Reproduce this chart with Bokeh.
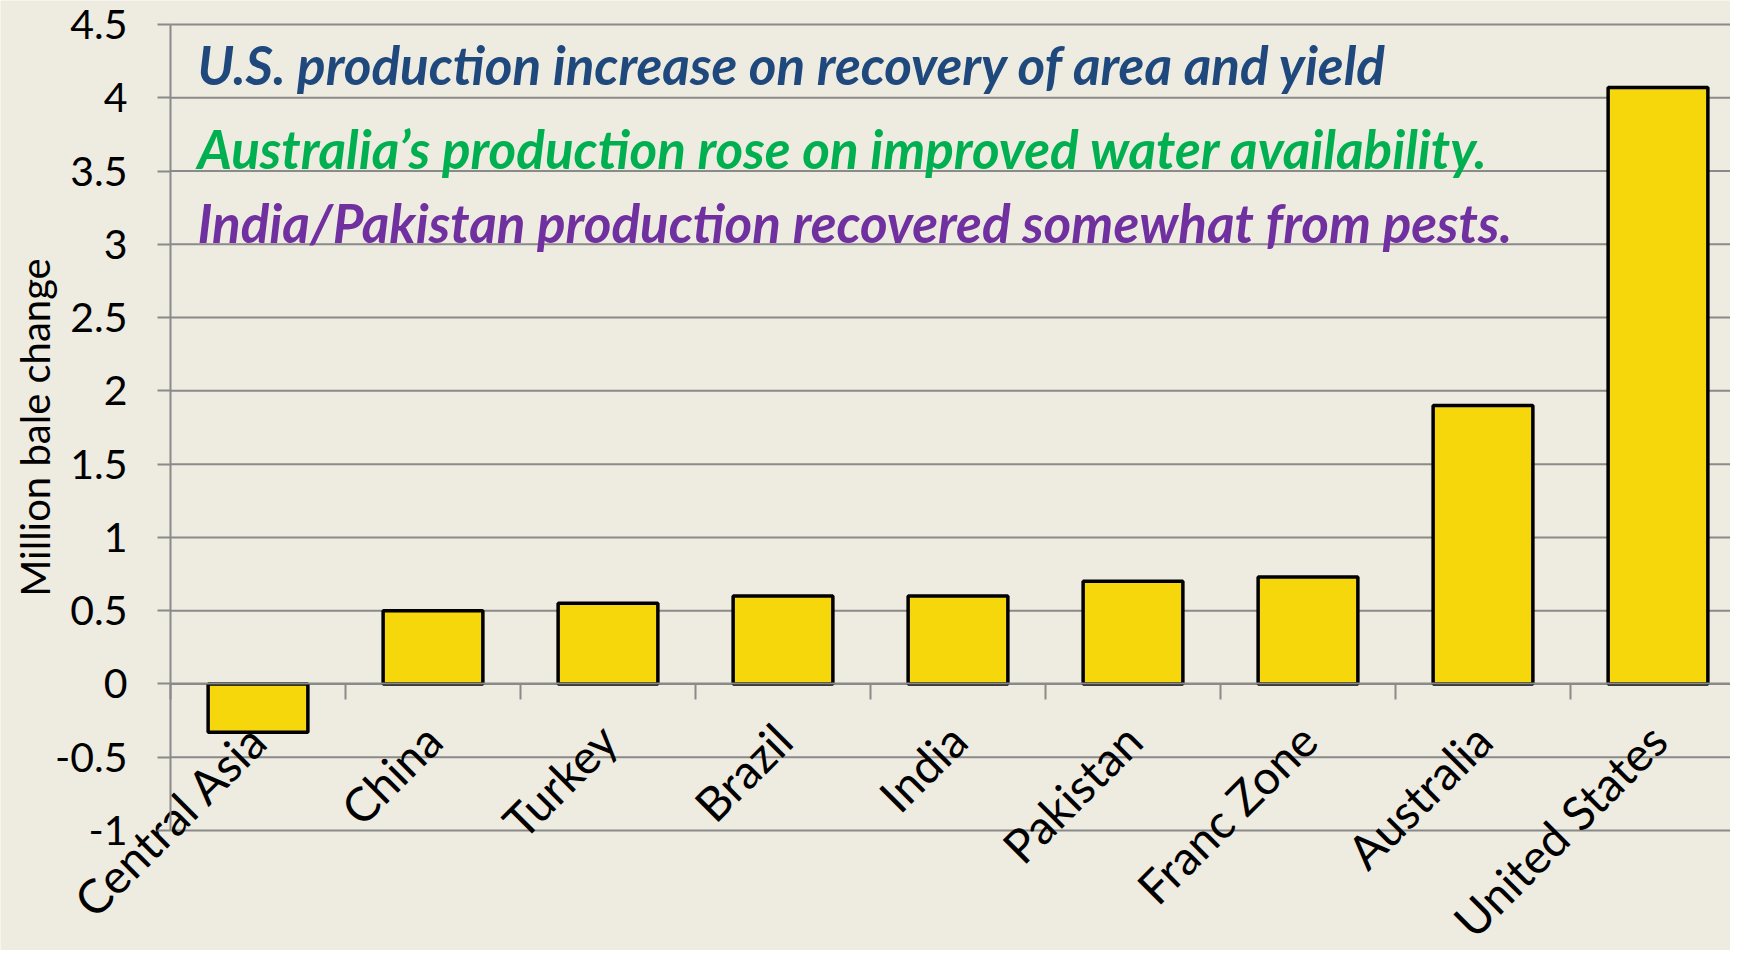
from math import pi
from bokeh.plotting import figure
from bokeh.models import (ColumnDataSource, FixedTicker, CustomJSTickFormatter,
                          Range1d, Label, LinearAxis)
from bokeh.embed import file_html
from bokeh.resources import INLINE

# ---- data ----
categories = ["Central Asia", "China", "Turkey", "Brazil", "India",
              "Pakistan", "Franc Zone", "Australia", "United States"]
changes = [-0.33, 0.50, 0.55, 0.60, 0.60, 0.70, 0.73, 1.90, 4.07]
y_ticks = [-1, -0.5, 0, 0.5, 1, 1.5, 2, 2.5, 3, 3.5, 4, 4.5]
y_label = "Million bale change"
notes = ["U.S. production increase on recovery of area and yield",
         "Australia\u2019s production rose on improved water availability.",
         "India/Pakistan production recovered somewhat from pests."]
note_colors = ["#1F497D", "#00B050", "#7030A0"]

BG = "#EEEBE0"
GRID = "#8A8A8A"
FONT = "Lato"

n = len(categories)
centers = [i + 0.5 for i in range(n)]
boundaries = list(range(n + 1))
y0, y1 = y_ticks[0], y_ticks[-1]

src = ColumnDataSource(dict(x=centers, top=changes))
grid_src = ColumnDataSource(dict(y=y_ticks))

# layout (pixels): the frame fills the whole figure; axes are pinned inside it
W, H = 1730, 950
axis_x_px = 170          # where x = 0 sits
top_px, bottom_px = 24, 830   # where y = 4.5 and y = -1 sit
px_per_cat = 175.0
px_per_unit = (bottom_px - top_px) / (y1 - y0)
x_start = -axis_x_px / px_per_cat
x_end = (W - axis_x_px) / px_per_cat
y_end = y1 + top_px / px_per_unit
y_start = y0 - (H - bottom_px) / px_per_unit

p = figure(width=W, height=H, output_backend="svg", toolbar_location=None,
           x_range=Range1d(x_start, x_end), y_range=Range1d(y_start, y_end),
           x_axis_location="above",
           min_border_left=0, min_border_top=0,
           min_border_right=0, min_border_bottom=0)
p.background_fill_color = BG
p.border_fill_color = BG
p.outline_line_color = None
p.xgrid.visible = False
p.ygrid.visible = False

# horizontal gridlines across the plotting area only
p.segment(x0=0, x1=x_end, y0="y", y1="y", source=grid_src,
          line_color=GRID, line_width=2)

# y axis pinned at x = 0
ya = p.yaxis[0]
ya.fixed_location = 0
ya.bounds = (y0, y1)
ya.ticker = FixedTicker(ticks=y_ticks)
ya.formatter = CustomJSTickFormatter(code="return String(tick)")
ya.axis_line_color = GRID
ya.axis_line_width = 2
ya.major_tick_line_color = GRID
ya.major_tick_line_width = 2
ya.major_tick_out = 13
ya.major_tick_in = 0
ya.minor_tick_line_color = None
ya.major_label_standoff = 30
ya.major_label_text_font = FONT
ya.major_label_text_font_size = "41px"
ya.major_label_text_color = "#000000"

# y axis title
p.add_layout(Label(x=0, y=(y0 + y1) / 2, text=y_label, angle=pi / 2,
                   x_offset=-136, text_align="center", text_baseline="middle",
                   text_font=FONT, text_font_size="40px",
                   text_color="#000000"))

# x axis pinned at y = 0, ticks at category boundaries (no labels)
xa = p.xaxis[0]
xa.fixed_location = 0
xa.bounds = (0, n)
xa.ticker = FixedTicker(ticks=boundaries)
xa.formatter = CustomJSTickFormatter(code="return ''")
xa.major_label_text_font_size = "1px"
xa.major_label_standoff = 0
xa.axis_line_color = GRID
xa.axis_line_width = 2
xa.major_tick_line_color = GRID
xa.major_tick_line_width = 2
xa.major_tick_in = 16
xa.major_tick_out = 0
xa.minor_tick_line_color = None

# category axis pinned at y = 0: labels at category centres
ca = LinearAxis(fixed_location=0,
                ticker=FixedTicker(ticks=centers),
                formatter=CustomJSTickFormatter(
                    args=dict(names=categories),
                    code="return names[Math.floor(tick)]"),
                axis_line_color=None, major_tick_line_color=None,
                minor_tick_line_color=None,
                major_tick_in=0, major_tick_out=0,
                major_label_orientation=pi / 4,
                major_label_standoff=48,
                major_label_text_font=FONT,
                major_label_text_font_size="47px",
                major_label_text_color="#000000")
p.add_layout(ca, "below")

# bars
p.vbar(x="x", top="top", bottom=0, width=0.57, source=src,
       fill_color="#F5D70B", line_color="#000000", line_width=3.5)

# annotation lines
note_y = [4.224, 3.657, 3.147]
for txt, col, yy in zip(notes, note_colors, note_y):
    p.add_layout(Label(x=0.154, y=yy, text=txt, text_color=col,
                       text_font=FONT, text_font_size="53px",
                       text_font_style="bold italic",
                       text_baseline="alphabetic", text_align="left"))

open("out.html", "w").write(file_html(p, INLINE))
